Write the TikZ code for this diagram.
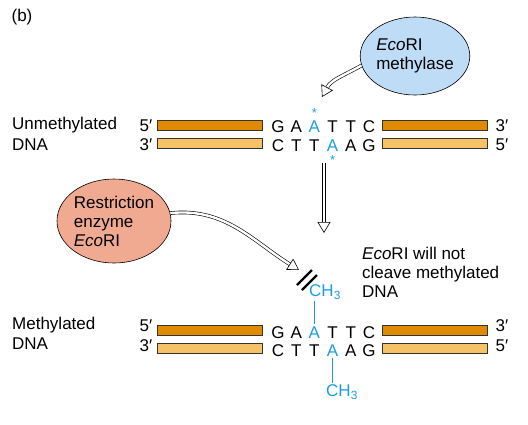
\documentclass[tikz,border=0pt]{standalone}
\usepackage{fontspec}
\setmainfont{Liberation Sans}
\usetikzlibrary{shapes.geometric,arrows.meta}

\definecolor{dnablue}{RGB}{28,158,222}
\definecolor{methfill}{RGB}{190,220,245}
\definecolor{restfill}{RGB}{240,170,145}
\definecolor{strandD}{RGB}{224,138,0}
\definecolor{strandL}{RGB}{245,194,104}

\tikzset{
  lab/.style={font=\fontsize{17}{19}\selectfont, inner sep=0pt},
  nt/.style={lab, text height=12pt, text depth=0pt},
  star/.style={text=dnablue, font=\fontsize{13}{13}\selectfont, inner sep=0pt, anchor=base},
  darkstrand/.style={draw=black!80, fill=strandD, line width=0.8pt,
    minimum width=105pt, minimum height=10pt, inner sep=0pt},
  lightstrand/.style={darkstrand, fill=strandL},
  enzyme/.style={ellipse, draw, line width=0.6pt, lab, align=left},
  hollow/.style={double=white, double distance=2.4pt, line width=0.6pt,
    -{Triangle[open, length=11pt, width=13pt]}},
  methyl/.style={dnablue, line width=1.2pt}
}

\begin{document}
\begin{tikzpicture}[x=1pt,y=-1pt]
  \useasboundingbox (0,0) rectangle (528,424);

  \node[lab] (b) at (22,17) {(b)};

  % unmethylated DNA
  \node[lab, anchor=west] (unm) at (12,125) {Unmethylated};
  \node[lab, anchor=west] (unmdna) at (12,145) {DNA};
  \node[nt] at (146,125) {5′};
  \node[nt] at (146,144) {3′};
  \node[nt] at (502,125) {3′};
  \node[nt] at (502,144) {5′};
  \node[darkstrand] (ul) at (210,125.5) {};
  \node[darkstrand] (ur) at (434.5,125.5) {};
  \node[lightstrand] (ll) at (210,143.5) {};
  \node[lightstrand] (lr) at (434.5,143.5) {};
  \foreach \b/\c [count=\i] in {G/black,A/black,A/dnablue,T/black,T/black,C/black}
    \node[nt, text=\c] (u\i) at (259.8+18.2*\i,126) {\b};
  \foreach \b/\c [count=\i] in {C/black,T/black,T/black,A/dnablue,A/black,G/black}
    \node[nt, text=\c] (l\i) at (259.8+18.2*\i,145) {\b};
  \node[star] (s1) at ([yshift=2pt]u3.north) {*};
  \node[star] (s2) at ([yshift=-13pt]l4.south) {*};

  % methylase
  \node[enzyme, fill=methfill, minimum width=106pt, minimum height=78pt]
    (methylase) at (415,56) {\textit{Eco}RI\\methylase};
  \coordinate (mtip) at (322,97);
  \draw[hollow] (methylase.190) to[out=210, in=62] (mtip);

  \coordinate (vtop) at (324,163);
  \coordinate (vtip) at (324,233);
  \draw[hollow] (vtop) -- (vtip);

  % restriction enzyme
  \node[enzyme, fill=restfill, minimum width=114pt, minimum height=84pt]
    (restr) at (114,221) {Restriction\\enzyme\\\textit{Eco}RI};
  \coordinate (rtip) at (299,270);
  \draw[hollow] (restr.8) to[out=6, in=148] (rtip);
  \draw[line width=2.2pt] (297,285) -- (312,270);
  \draw[line width=2.2pt] (302,290) -- (317,275);

  \node[lab, anchor=north west, align=left] (note) at (362,247)
    {\textit{Eco}RI will not\\cleave methylated\\DNA};

  % methylated DNA
  \node[lab, anchor=west] (met) at (12,325) {Methylated};
  \node[lab, anchor=west] (metdna) at (12,344) {DNA};
  \node[nt] at (146,325) {5′};
  \node[nt] at (146,345) {3′};
  \node[nt] at (502,325) {3′};
  \node[nt] at (502,345) {5′};
  \node[darkstrand] (mul) at (210,330) {};
  \node[darkstrand] (mur) at (434.5,330) {};
  \node[lightstrand] (mll) at (210,348) {};
  \node[lightstrand] (mlr) at (434.5,348) {};
  \foreach \b/\c [count=\i] in {G/black,A/black,A/dnablue,T/black,T/black,C/black}
    \node[nt, text=\c] (m\i) at (259.8+18.2*\i,332) {\b};
  \foreach \b/\c [count=\i] in {C/black,T/black,T/black,A/dnablue,A/black,G/black}
    \node[nt, text=\c] (n\i) at (259.8+18.2*\i,350) {\b};
  \node[lab, text=dnablue, anchor=west] (ch3t) at (309,292) {CH\textsubscript{3}};
  \node[lab, text=dnablue, anchor=west] (ch3b) at (326,392) {CH\textsubscript{3}};
  \draw[methyl] ([yshift=2pt]m3.north) -- ([yshift=-2pt]m3.north |- ch3t.south);
  \draw[methyl] ([yshift=-2pt]n4.south) -- ([yshift=2pt]n4.south |- ch3b.north);
\end{tikzpicture}
\end{document}
